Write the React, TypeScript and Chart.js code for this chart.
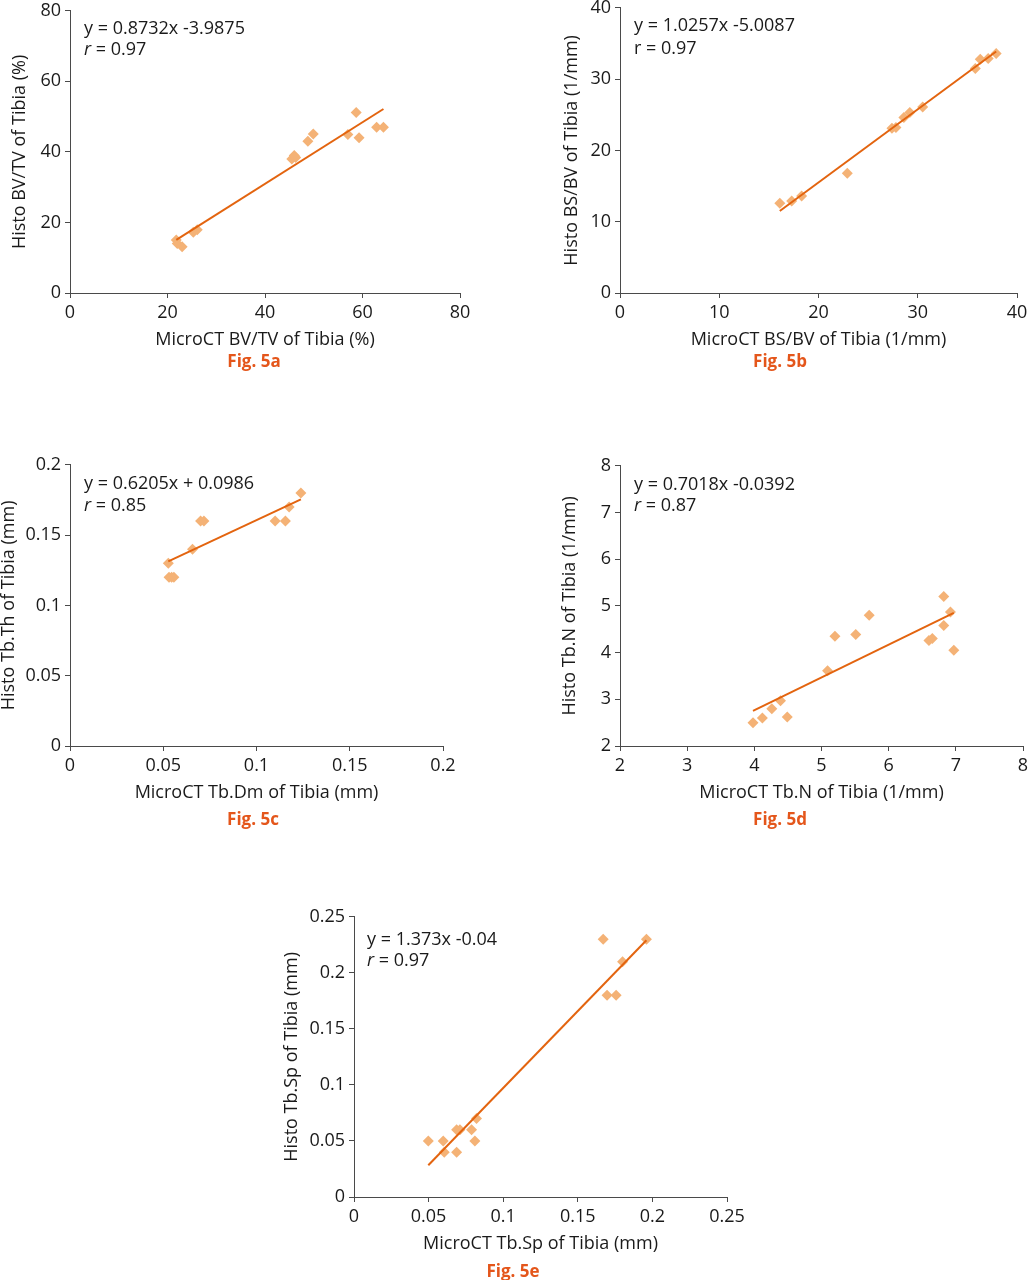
import React, { useEffect, useRef } from 'react';
import { Chart, registerables } from 'chart.js';

Chart.register(...registerables);

// ---------- Data ----------
// Fig. 5a  BV/TV (%)
const aMicroCT = [21.8, 22.0, 23.0, 25.3, 26.1, 45.5, 46.0, 46.3, 48.8, 49.9, 57.0, 58.7, 59.3, 62.9, 64.3];
const aHisto = [15.0, 14.0, 13.1, 17.2, 17.9, 38.0, 39.0, 38.4, 43.0, 45.1, 44.9, 51.2, 44.0, 47.0, 47.0];

// Fig. 5b  BS/BV (1/mm)
const bMicroCT = [16.1, 17.3, 18.3, 22.9, 27.4, 27.8, 28.6, 29.2, 30.5, 35.8, 36.3, 37.1, 37.9];
const bHisto = [12.6, 12.9, 13.6, 16.8, 23.1, 23.2, 24.6, 25.3, 26.1, 31.5, 32.8, 32.9, 33.6];

// Fig. 5c  Tb.Dm / Tb.Th (mm)
const cMicroCT = [0.0527, 0.0531, 0.0545, 0.0557, 0.0657, 0.0700, 0.0718, 0.1100, 0.1155, 0.1175, 0.1238];
const cHisto = [0.13, 0.12, 0.12, 0.12, 0.14, 0.16, 0.16, 0.16, 0.16, 0.17, 0.18];

// Fig. 5d  Tb.N (1/mm)
const dMicroCT = [3.98, 4.12, 4.26, 4.39, 4.49, 5.09, 5.20, 5.51, 5.71, 6.60, 6.65, 6.82, 6.82, 6.92, 6.97];
const dHisto = [2.50, 2.60, 2.80, 2.97, 2.62, 3.61, 4.35, 4.39, 4.80, 4.26, 4.30, 5.20, 4.58, 4.87, 4.05];

// Fig. 5e  Tb.Sp (mm)
const eMicroCT = [0.0498, 0.0598, 0.0605, 0.0688, 0.0688, 0.0710, 0.0788, 0.0810, 0.0821, 0.1670, 0.1696, 0.1757, 0.1800, 0.1960];
const eHisto = [0.050, 0.050, 0.040, 0.040, 0.060, 0.060, 0.060, 0.050, 0.070, 0.230, 0.180, 0.180, 0.210, 0.230];

// Regression lines (as printed on each panel)
const slopes = [0.8732, 1.0257, 0.6205, 0.7018, 1.373];
const intercepts = [-3.9875, -5.0087, 0.0986, -0.0392, -0.04];
const equationTexts = ['y = 0.8732x -3.9875', 'y = 1.0257x -5.0087', 'y = 0.6205x + 0.0986', 'y = 0.7018x -0.0392', 'y = 1.373x -0.04'];
const rValues = ['0.97', '0.97', '0.85', '0.87', '0.97'];

// Tick values / labels
const ticksA = [0, 20, 40, 60, 80];
const tickLabelsA = ['0', '20', '40', '60', '80'];
const ticksB = [0, 10, 20, 30, 40];
const tickLabelsB = ['0', '10', '20', '30', '40'];
const ticksC = [0, 0.05, 0.1, 0.15, 0.2];
const tickLabelsC = ['0', '0.05', '0.1', '0.15', '0.2'];
const ticksD = [2, 3, 4, 5, 6, 7, 8];
const tickLabelsD = ['2', '3', '4', '5', '6', '7', '8'];
const ticksE = [0, 0.05, 0.1, 0.15, 0.2, 0.25];
const tickLabelsE = ['0', '0.05', '0.1', '0.15', '0.2', '0.25'];

const xTitles = ['MicroCT BV/TV of Tibia (%)', 'MicroCT BS/BV of Tibia (1/mm)', 'MicroCT Tb.Dm of Tibia (mm)', 'MicroCT Tb.N of Tibia (1/mm)', 'MicroCT Tb.Sp of Tibia (mm)'];
const yTitles = ['Histo BV/TV of Tibia (%)', 'Histo BS/BV of Tibia (1/mm)', 'Histo Tb.Th of Tibia (mm)', 'Histo Tb.N of Tibia (1/mm)', 'Histo Tb.Sp of Tibia (mm)'];
const figLabels = ['Fig. 5a', 'Fig. 5b', 'Fig. 5c', 'Fig. 5d', 'Fig. 5e'];

// ---------- Styling / layout ----------
const FONT = '"Open Sans", "Noto Sans", sans-serif';
const FONT_SIZE = 18;
const TEXT_COLOR = '#1a1a1a';
const AXIS_COLOR = '#4a4a4a';
const POINT_COLOR = '#f4b276';
const LINE_COLOR = '#e3640f';
const FIG_COLOR = '#e4561b';

const Y_SCALE_W = 75;
const PAD_T = 14;
const PAD_R = 25;
const X_SCALE_H = 60;
const PAD_B = 25;
const LINE_H = FONT_SIZE * 1.2;

type Area = { l: number; t: number; r: number; b: number };
type Panel = {
  xs: number[];
  ys: number[];
  idx: number;
  xTicks: number[];
  xTickLabels: string[];
  yTicks: number[];
  yTickLabels: string[];
  area: Area;
  yTitleX: number;
  eqDx: number;
  eqDy1: number;
  eqDy2: number;
  rItalic: boolean;
  figX: number;
  figY: number;
};

const panels: Panel[] = [
  { xs: aMicroCT, ys: aHisto, idx: 0, xTicks: ticksA, xTickLabels: tickLabelsA, yTicks: ticksA, yTickLabels: tickLabelsA,
    area: { l: 70, t: 10, r: 460, b: 293 }, yTitleX: 20, eqDx: 14, eqDy1: 18, eqDy2: 39, rItalic: true, figX: 254, figY: 360 },
  { xs: bMicroCT, ys: bHisto, idx: 1, xTicks: ticksB, xTickLabels: tickLabelsB, yTicks: ticksB, yTickLabels: tickLabelsB,
    area: { l: 620, t: 7, r: 1017, b: 293 }, yTitleX: 572, eqDx: 14, eqDy1: 18, eqDy2: 41, rItalic: false, figX: 780, figY: 360 },
  { xs: cMicroCT, ys: cHisto, idx: 2, xTicks: ticksC, xTickLabels: tickLabelsC, yTicks: ticksC, yTickLabels: tickLabelsC,
    area: { l: 70, t: 464, r: 443, b: 746 }, yTitleX: 9, eqDx: 14, eqDy1: 19, eqDy2: 41, rItalic: true, figX: 253, figY: 818 },
  { xs: dMicroCT, ys: dHisto, idx: 3, xTicks: ticksD, xTickLabels: tickLabelsD, yTicks: ticksD, yTickLabels: tickLabelsD,
    area: { l: 620, t: 465, r: 1023, b: 746 }, yTitleX: 570, eqDx: 14, eqDy1: 19, eqDy2: 40, rItalic: true, figX: 780, figY: 818 },
  { xs: eMicroCT, ys: eHisto, idx: 4, xTicks: ticksE, xTickLabels: tickLabelsE, yTicks: ticksE, yTickLabels: tickLabelsE,
    area: { l: 354, t: 916, r: 727, b: 1197 }, yTitleX: 292, eqDx: 13, eqDy1: 23, eqDy2: 44, rItalic: true, figX: 513, figY: 1270 },
];

function labelFor(ticks: number[], labels: string[], value: number): string {
  const i = ticks.findIndex((t) => Math.abs(t - value) < 1e-9);
  return i >= 0 ? labels[i] : '';
}

function ScatterPanel({ p }: { p: Panel }) {
  const ref = useRef<HTMLCanvasElement | null>(null);
  const { area } = p;
  const canvasLeft = area.l - Y_SCALE_W;
  const canvasTop = area.t - PAD_T;
  const width = area.r - area.l + Y_SCALE_W + PAD_R;
  const height = area.b - area.t + PAD_T + X_SCALE_H + PAD_B;

  useEffect(() => {
    if (!ref.current) return;
    const minX = Math.min(...p.xs);
    const maxX = Math.max(...p.xs);
    const slope = slopes[p.idx];
    const intercept = intercepts[p.idx];
    const points = p.xs.map((x, i) => ({ x, y: p.ys[i] }));
    const trend = [
      { x: minX, y: slope * minX + intercept },
      { x: maxX, y: slope * maxX + intercept },
    ];

    const annotation = {
      id: 'eqText' + p.idx,
      afterDraw(chart: any) {
        const ctx = chart.ctx;
        const ca = chart.chartArea;
        ctx.save();
        ctx.fillStyle = TEXT_COLOR;
        ctx.textBaseline = 'middle';
        ctx.textAlign = 'left';
        ctx.font = `${FONT_SIZE}px ${FONT}`;
        const x0 = ca.left + p.eqDx;
        ctx.fillText(equationTexts[p.idx], x0, ca.top + p.eqDy1);
        ctx.font = `${p.rItalic ? 'italic ' : ''}${FONT_SIZE}px ${FONT}`;
        ctx.fillText('r', x0, ca.top + p.eqDy2);
        const w = ctx.measureText('r').width;
        ctx.font = `${FONT_SIZE}px ${FONT}`;
        ctx.fillText(' = ' + rValues[p.idx], x0 + w, ca.top + p.eqDy2);
        ctx.restore();
      },
    };

    const gridOpts = {
      display: true,
      drawOnChartArea: false,
      drawTicks: true,
      tickLength: 5,
      color: AXIS_COLOR,
      lineWidth: 1,
    };
    const borderOpts = { display: true, color: AXIS_COLOR, width: 1 };
    const tickFont = { family: FONT, size: FONT_SIZE };

    const chart = new Chart(ref.current, {
      type: 'scatter',
      data: {
        datasets: [
          {
            label: 'trend',
            data: trend,
            showLine: true,
            borderColor: LINE_COLOR,
            borderWidth: 2,
            pointRadius: 0,
            fill: false,
            order: 0,
          } as any,
          {
            label: 'data',
            data: points,
            pointStyle: 'rectRot',
            pointRadius: 5.5,
            backgroundColor: POINT_COLOR,
            borderWidth: 0,
            order: 1,
          } as any,
        ],
      },
      options: {
        animation: false,
        responsive: false,
        devicePixelRatio: 1,
        layout: { padding: { left: 0, top: PAD_T, right: PAD_R, bottom: PAD_B } },
        plugins: { legend: { display: false }, tooltip: { enabled: false } },
        scales: {
          x: {
            type: 'linear',
            min: p.xTicks[0],
            max: p.xTicks[p.xTicks.length - 1],
            afterBuildTicks: (scale: any) => {
              scale.ticks = p.xTicks.map((v) => ({ value: v }));
            },
            afterFit: (scale: any) => {
              scale.height = X_SCALE_H;
            },
            grid: gridOpts,
            border: borderOpts,
            ticks: {
              font: tickFont,
              color: TEXT_COLOR,
              padding: 4,
              maxRotation: 0,
              autoSkip: false,
              callback: (v: any) => labelFor(p.xTicks, p.xTickLabels, Number(v)),
            },
            title: {
              display: true,
              text: xTitles[p.idx],
              color: TEXT_COLOR,
              font: { family: FONT, size: FONT_SIZE },
              padding: { top: 0, bottom: 2 },
            },
          },
          y: {
            type: 'linear',
            min: p.yTicks[0],
            max: p.yTicks[p.yTicks.length - 1],
            afterBuildTicks: (scale: any) => {
              scale.ticks = p.yTicks.map((v) => ({ value: v }));
            },
            afterFit: (scale: any) => {
              scale.width = Y_SCALE_W;
            },
            grid: gridOpts,
            border: borderOpts,
            ticks: {
              font: tickFont,
              color: TEXT_COLOR,
              padding: 4,
              autoSkip: false,
              callback: (v: any) => labelFor(p.yTicks, p.yTickLabels, Number(v)),
            },
            title: {
              display: true,
              text: yTitles[p.idx],
              color: TEXT_COLOR,
              font: { family: FONT, size: FONT_SIZE },
              padding: { top: Math.max(0, p.yTitleX - canvasLeft - LINE_H / 2), bottom: 0 },
            },
          },
        },
      },
      plugins: [annotation],
    });
    return () => chart.destroy();
  }, []);

  return (
    <>
      <canvas
        ref={ref}
        width={width}
        height={height}
        style={{ position: 'absolute', left: canvasLeft, top: canvasTop, width, height }}
      />
      <div
        style={{
          position: 'absolute',
          left: p.figX,
          top: p.figY,
          transform: 'translate(-50%, -50%)',
          fontFamily: FONT,
          fontWeight: 700,
          fontSize: 17,
          color: FIG_COLOR,
          whiteSpace: 'nowrap',
          lineHeight: 1,
        }}
      >
        {figLabels[p.idx]}
      </div>
    </>
  );
}

export default function App() {
  return (
    <div
      style={{
        position: 'absolute',
        left: 0,
        top: 0,
        width: 1028,
        height: 1280,
        overflow: 'hidden',
        background: '#ffffff',
      }}
    >
      {panels.map((p) => (
        <ScatterPanel key={p.idx} p={p} />
      ))}
    </div>
  );
}
